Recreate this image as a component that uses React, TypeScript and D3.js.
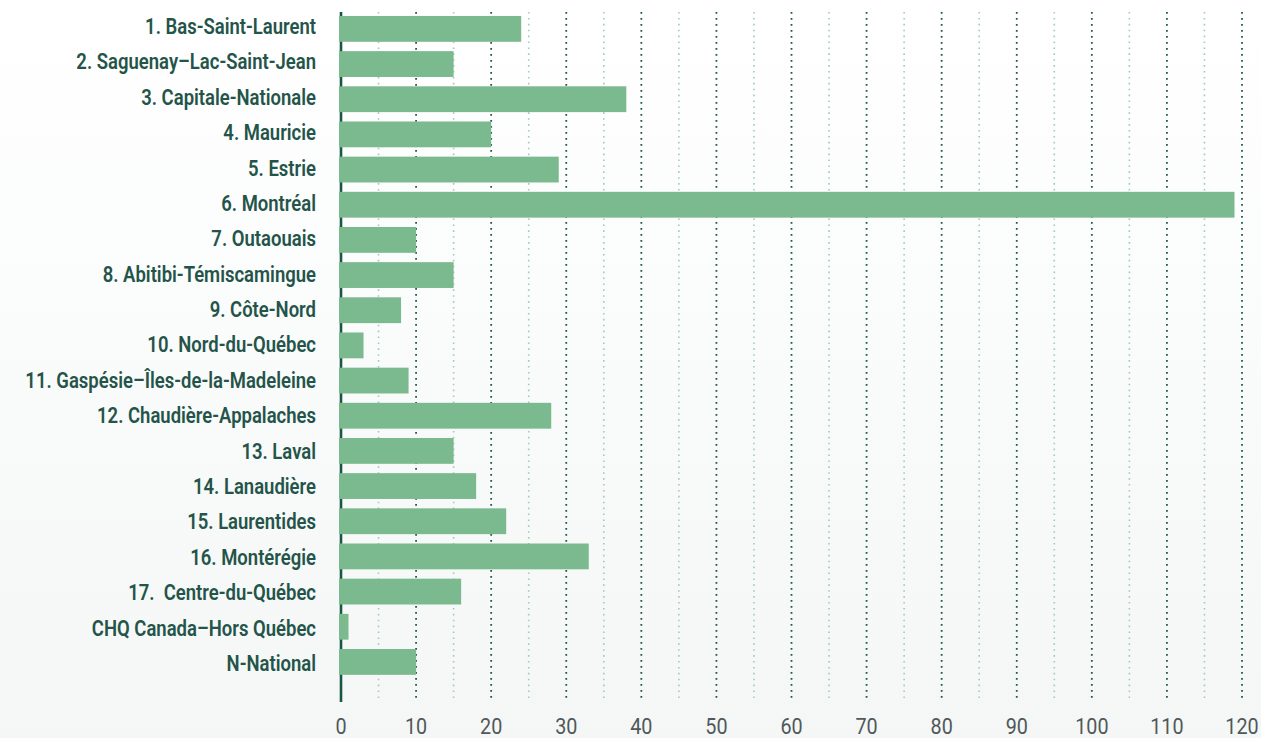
import React, { useEffect, useRef } from "react";
import * as d3 from "d3";

const regions = [
  "1. Bas-Saint-Laurent",
  "2. Saguenay\u2013Lac-Saint-Jean",
  "3. Capitale-Nationale",
  "4. Mauricie",
  "5. Estrie",
  "6. Montréal",
  "7. Outaouais",
  "8. Abitibi-Témiscamingue",
  "9. Côte-Nord",
  "10. Nord-du-Québec",
  "11. Gaspésie\u2013Îles-de-la-Madeleine",
  "12. Chaudière-Appalaches",
  "13. Laval",
  "14. Lanaudière",
  "15. Laurentides",
  "16. Montérégie",
  "17.  Centre-du-Québec",
  "CHQ Canada\u2013Hors Québec",
  "N-National",
];
const counts = [24, 15, 38, 20, 29, 119, 10, 15, 8, 3, 9, 28, 15, 18, 22, 33, 16, 1, 10];
const majorTicks = [0, 10, 20, 30, 40, 50, 60, 70, 80, 90, 100, 110, 120];
const minorTicks = [5, 15, 25, 35, 45, 55, 65, 75, 85, 95, 105, 115];

const W = 1261;
const H = 738;

export default function App() {
  const ref = useRef<SVGSVGElement>(null);

  useEffect(() => {
    const svg = d3.select(ref.current);
    svg.selectAll("*").remove();

    const x = d3.scaleLinear().domain([0, 120]).range([341, 1242]);
    const y = d3
      .scaleBand()
      .domain(regions)
      .range([11.3, 679.5])
      .paddingInner(0.266)
      .paddingOuter(0.133);
    // label baselines run on a slightly wider pitch than the bars
    const yLabel = d3.scalePoint().domain(regions).range([34, 671]);

    const defs = svg.append("defs");
    const grad = defs
      .append("linearGradient")
      .attr("id", "bg")
      .attr("x1", 0)
      .attr("y1", 0)
      .attr("x2", 0)
      .attr("y2", 1);
    grad.append("stop").attr("offset", "0%").attr("stop-color", "#ffffff");
    grad.append("stop").attr("offset", "100%").attr("stop-color", "#f4f7f6");
    svg.append("rect").attr("width", W).attr("height", H).attr("fill", "url(#bg)");

    // minor grid
    svg
      .append("g")
      .selectAll("line")
      .data(minorTicks)
      .join("line")
      .attr("x1", (d) => x(d))
      .attr("x2", (d) => x(d))
      .attr("y1", 12)
      .attr("y2", 702)
      .attr("stroke", "#9fcdb5")
      .attr("stroke-width", 1.6)
      .attr("stroke-dasharray", "1.6 4.3");

    // major grid
    svg
      .append("g")
      .selectAll("line")
      .data(majorTicks.filter((d) => d > 0))
      .join("line")
      .attr("x1", (d) => x(d))
      .attr("x2", (d) => x(d))
      .attr("y1", 12)
      .attr("y2", 702)
      .attr("stroke", "#1f5a4a")
      .attr("stroke-width", 1.8)
      .attr("stroke-dasharray", "1.8 4.2");

    // axis line
    svg
      .append("line")
      .attr("x1", x(0))
      .attr("x2", x(0))
      .attr("y1", 12)
      .attr("y2", 702)
      .attr("stroke", "#175843")
      .attr("stroke-width", 2.6);

    // bars
    svg
      .append("g")
      .selectAll("rect")
      .data(regions)
      .join("rect")
      .attr("x", x(0) - 2)
      .attr("y", (d) => y(d)!)
      .attr("width", (d, i) => x(counts[i]) - x(0) + 2)
      .attr("height", y.bandwidth())
      .attr("fill", "#7bb98f");

    // category labels, squeezed horizontally to mimic the condensed face
    const labels = svg
      .append("g")
      .attr("transform", "translate(316,0) scale(0.86,1)");
    labels
      .selectAll("text")
      .data(regions)
      .join("text")
      .attr("x", 0)
      .attr("y", (d) => yLabel(d)!)
      .attr("text-anchor", "end")
      .attr("fill", "#245449")
      .attr("font-family", "Roboto, sans-serif")
      .attr("font-weight", 600)
      .attr("font-size", 21.5)
      .style("white-space", "pre")
      .text((d) => d);

    // tick labels
    svg
      .append("g")
      .selectAll("text")
      .data(majorTicks)
      .join("text")
      .attr("transform", (d) => `translate(${x(d)},734) scale(0.92,1)`)
      .attr("text-anchor", "middle")
      .attr("fill", "#50585a")
      .attr("font-family", "Roboto, sans-serif")
      .attr("font-size", 21.5)
      .text((d) => d);
  }, []);

  return (
    <svg
      ref={ref}
      width={W}
      height={H}
      style={{ position: "absolute", left: 0, top: 0, display: "block" }}
    />
  );
}
